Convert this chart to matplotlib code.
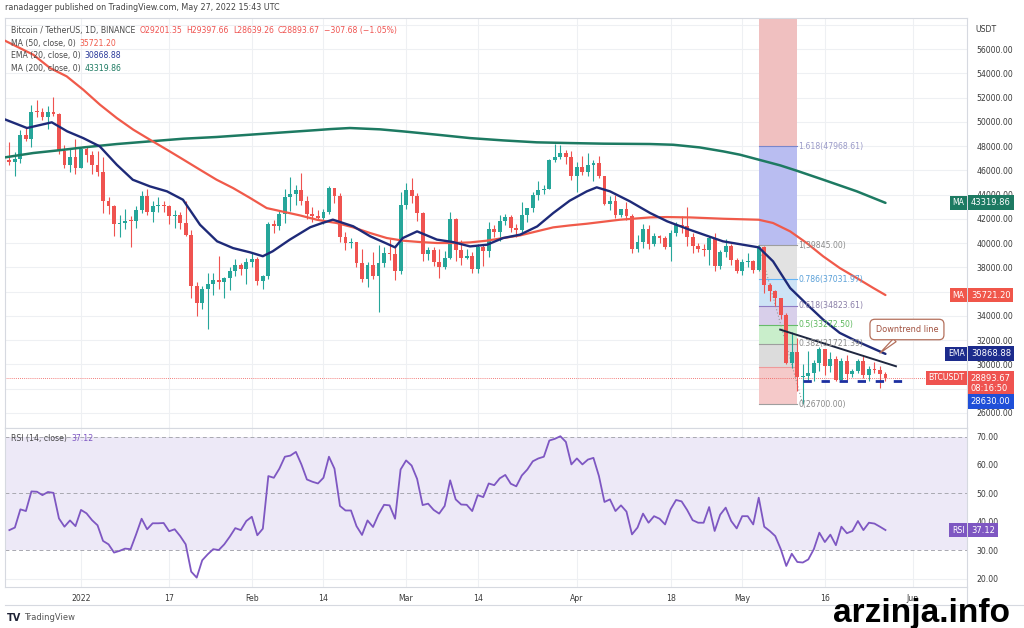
import numpy as np
import pandas as pd
import matplotlib
matplotlib.use('Agg')
import matplotlib.pyplot as plt
import matplotlib.transforms as mtransforms
from matplotlib.patches import Rectangle
from matplotlib.lines import Line2D

plt.rcParams['font.family'] = ['DejaVu Sans']

############################################
### data (BTC/USDT 1D, Dec 19 2021 .. May 27 2022)
############################################
start_date = '2021-12-19'
first_open = 46834
close = [46682, 46914, 48890, 48588, 50838, 50821, 50429, 50809, 50640, 47588, 46464, 47120, 46216,
         47722, 47286, 46446, 45832, 43451, 43082, 41566, 41679, 41864, 41822, 42729, 43902, 42560, 43059,
         43084, 43071, 42201, 42352, 41660, 40680, 36445, 35071, 36244, 36660, 36958, 36809, 37160, 37716,
         38166, 37881, 38466,
         38690, 36896, 37311, 41574, 41382, 42380, 43839, 44043, 44372, 43495, 42373, 42217, 42053, 42535,
         44544, 43873, 40515, 39974, 40079, 38386, 37008, 38230, 37250, 38327, 39219, 39116, 37699, 43160,
         44421, 43892, 42454, 39137, 39400, 38419, 38062, 38737, 41982, 39437, 38794, 38904, 37849, 39666,
         39338, 41143, 40951, 41801, 42191, 41247, 41077, 42358, 42892, 43960, 44348, 44500, 46820, 47128,
         47465, 47062, 45538,
         46281, 45868, 46453, 46622, 45555, 43206, 43503, 42287, 42782, 42207, 39521, 40127, 41166, 39935,
         40553, 40424, 39716, 40826, 41503, 41375, 40527, 39741, 39478, 39469, 40458, 38120, 39241, 39773,
         38609, 37714,
         38469, 38529, 37750, 39695, 36552, 36013, 35472, 34039, 30080, 31017, 28936, 29047, 29283, 30101,
         31305, 29862, 30425, 28716, 30319, 29201, 29445, 30294, 29110, 29655, 29542, 29201, 28893.67]
high = [48300, 47537, 49328, 49576, 51375, 51810, 51156, 51280, 52088, 50704, 48119, 47879, 48548,
        47954, 47990, 47570, 47557, 47070, 43816, 43145, 42300, 42786, 42248, 43100, 44322, 44500, 43448,
        43800, 43475, 43176, 42691, 42559, 43505, 41100, 36835, 36499, 37550, 37545, 38919, 37234, 38000,
        38720, 38359, 38744,
        39265, 38855, 37387, 41772, 41913, 42656, 44500, 45492, 44799, 45821, 43920, 43000, 42760, 42842,
        44751, 44549, 44164, 40959, 40444, 40125, 39494, 38429, 39249, 39843, 39683, 40300, 39855, 44225,
        44949, 45400, 44101, 42527, 39650, 39695, 39547, 39363, 42594, 42039, 40236, 39486, 39310, 39947,
        39887, 41718, 41478, 42326, 42400, 42301, 41544, 43361, 42893, 44220, 45094, 44820, 46920, 48189,
        48096, 47700, 47600,
        46720, 47213, 47444, 46890, 47200, 45555, 43900, 43970, 42800, 43410, 42414, 40699, 41561, 41500,
        40870, 40709, 40595, 41100, 41760, 42199, 42976, 40797, 39980, 39940, 40616, 40797, 39474, 40372,
        39925, 38795,
        38675, 39167, 38647, 39845, 39790, 36675, 36146, 35514, 34243, 32659, 32162, 30032, 31083, 30343,
        31460, 31308, 31025, 30666, 30545, 30777, 29588, 30487, 30670, 29834, 30223, 29876, 29397.66]
low = [46406, 45558, 46630, 48421, 47920, 50384, 50171, 49412, 50450, 47313, 46201, 45900, 45678,
       46208, 46654, 45696, 45500, 42500, 42430, 40610, 40501, 41200, 39650, 41268, 42450, 42311, 41725,
       42555, 42581, 41540, 41250, 41138, 40553, 35440, 34008, 34601, 32917, 35701, 36234, 35507, 36155,
       37268, 37351, 36633,
       38000, 36586, 36250, 37026, 40843, 41116, 41645, 42666, 43117, 43174, 42000, 41748, 41870, 41550,
       42427, 43307, 40073, 39450, 39639, 38000, 36800, 36350, 37036, 34322, 38014, 38573, 37000, 37450,
       42809, 43334, 41832, 38550, 38586, 38088, 37155, 37867, 38656, 38540, 38223, 38660, 37578, 37555,
       38098, 38828, 40500, 40135, 41499, 40911, 40467, 40891, 41751, 42566, 43578, 44072, 44422, 46663,
       46950, 46565, 45200,
       44200, 45620, 45530, 45118, 45353, 43121, 42727, 42107, 42125, 41868, 39200, 39254, 39588, 39551,
       39766, 39991, 39546, 38536, 40571, 40820, 39751, 39177, 39285, 38929, 38200, 37702, 37881, 38881,
       38175, 37578,
       37386, 38052, 37500, 37670, 35856, 35258, 34785, 33713, 30033, 29730, 27785, 26700, 28751, 28630,
       29480, 29091, 29404, 28654, 28693, 28730, 28947, 29255, 28866, 28631, 29294, 28020, 28639.26]

# indicator lines (x = days from 2022-01-01)
ma200_day = [-13.8, -8.65, -4.1, 0.4, 6.5, 12.5, 18.6, 24.6, 30.7, 36.7, 42.8, 45.2, 48.8, 54.3, 58.5,
             64.6, 70.6, 76.6, 82.7, 88.7, 94.8, 103.3, 107.5, 112.3, 116.6, 119.6, 123.0, 126.9, 129.9,
             134.7, 140.8, 146]
ma200_val = [47070, 47430, 47650, 47890, 48170, 48390, 48610, 48750, 48940, 49130, 49320, 49400, 49490,
             49380, 49210, 48940, 48660, 48470, 48310, 48250, 48200, 48170, 48110, 47890, 47560, 47290,
             46880, 46410, 45970, 45230, 44270, 43319.86]
ma50_day = [-13.8, -8.65, -5.6, -2.6, 0.4, 3.45, 6.5, 9.5, 12.5, 15.6, 18.6, 21.6, 24.6, 27.6, 30.7,
            33.7, 39.7, 42.8, 45.2, 46.4, 49.4, 52.5, 55.5, 58.5, 61.5, 64.6, 67.6, 70.6, 73.6, 76.6, 79.7,
            82.7, 85.7, 88.7, 91.8, 97.8, 103.3, 106.3, 110.5, 116.6, 123.0, 125.6, 128.7, 131.7, 134.7,
            137.7, 140.8, 143.8, 146]
ma50_val = [56690, 55530, 54430, 53750, 52650, 51410, 50310, 49350, 48530, 47700, 46880, 46050, 45230,
            44540, 43720, 42890, 42290, 41930, 41740, 41660, 41300, 40830, 40420, 40200, 40090, 40010,
            40010, 40060, 40200, 40420, 40640, 40970, 41300, 41460, 41600, 41930, 42120, 42150, 42120,
            42010, 41930, 41660, 40970, 40010, 38910, 37950, 37120, 36300, 35721.20]
ema20_day = [-13.8, -9.8, -5.3, -2.5, 0.4, 3.4, 6.5, 9.4, 12.5, 15.6, 18.5, 21.6, 24.7, 27.6, 30.7, 33.0,
             34.8, 37.9, 41.6, 43.4, 45.7, 49.4, 52.5, 55.5, 57.0, 58.4, 61.0, 64.6, 67.5, 70.6, 73.7, 76.6,
             79.7, 82.8, 85.7, 88.7, 91.8, 93.6, 96.0, 99.6, 101.5, 103.3, 106.4, 110.5, 116.5, 123.0,
             125.6, 128.7, 131.8, 134.7, 137.7, 140.8, 146]
ema20_val = [50200, 49490, 49960, 49215, 48660, 47980, 46460, 45225, 44680, 44270, 43580, 41515, 40150,
             39590, 39240, 38920, 39330, 40290, 41310, 41600, 41935, 41390, 40560, 39960, 39650, 40420,
             40970, 40290, 40090, 39730, 39870, 40420, 40700, 41380, 42480, 43500, 44270, 44600, 44270,
             43450, 42950, 42480, 41795, 41100, 40150, 39650, 38500, 36300, 34930, 33690, 32600, 31910,
             30868.88]

rsi = [37.1, 38.0, 44.4, 43.8, 50.7, 50.6, 49.4, 50.5, 50.2, 41.2, 38.3, 40.5, 38.5,
       44.2, 43.0, 40.6, 38.8, 33.3, 32.1, 29.2, 29.8, 30.6, 30.4, 35.6, 41.1, 37.4, 39.5, 39.5, 39.6,
       36.7, 37.4, 35.0, 32.1, 22.5, 20.4, 26.5, 28.6, 30.4, 30.1, 32.1, 34.8, 37.8, 37.1, 40.3,
       41.8, 35.3, 37.6, 56.1, 55.5, 58.7, 62.9, 63.3, 64.6, 60.2, 54.9, 54.1, 53.5, 55.5, 62.9,
       58.7, 45.6, 44.0, 44.0, 38.5, 35.4, 40.5, 38.2, 42.6, 46.0, 45.8, 41.1, 58.4,
       61.6, 59.8, 55.1, 45.9, 46.4, 44.2, 42.9, 45.6, 54.6, 47.9, 46.1, 46.0, 43.8, 49.4, 48.7, 53.5,
       52.9, 55.3, 56.5, 53.4, 52.5, 56.3, 58.4, 61.3, 62.3, 62.9, 68.6, 69.2, 70.1, 68.1, 60.2,
       62.3, 60.2, 61.9, 62.5, 56.1, 47.0, 47.9, 43.8, 45.8, 43.6, 35.6, 38.0, 42.9, 39.7,
       42.0, 41.1, 39.1, 44.4, 47.7, 47.2, 44.2, 40.6, 39.7, 39.7, 45.2, 36.8, 42.5, 45.0, 40.3, 37.7,
       42.0, 42.0, 39.1, 48.5, 38.3, 36.8, 35.0, 30.4, 24.5, 28.8, 25.9, 25.7, 26.8, 30.4, 36.2, 32.9,
       35.5, 31.8, 38.3, 36.0, 36.8, 40.3, 37.1, 39.7, 39.4, 38.3, 37.12]

# fib retracement (drawn May 4 -> May 11)
fib_days = [123, 129.9]
fib_ratio = ['0', '0.236', '0.382', '0.5', '0.618', '0.786', '1', '1.618']
fib_price = [26700.00, 29802.22, 31721.39, 33272.50, 34823.61, 37031.97, 39845.00, 47968.61]
fib_fill = ['#f5c9c9', '#dcdcdc', '#c9eecb', '#d8cfea', '#cde3f6', '#e2e2e2', '#b9bdf1', '#f0c0c0']
fib_line = ['#9e9e9e', '#ef9a9a', '#9e9e9e', '#66bb6a', '#8e7cc3', '#64b5f6', '#9e9e9e', '#7986cb']
fib_text = ['#8a8a8a', None, '#8a8a8a', '#5cb85c', '#8a7fa8', '#5aa0d8', '#8a8a8a', '#9a9ac8']

downtrend_day = [126.9, 147.9]
downtrend_val = [32870, 29850]
support_day = [131, 150.6]
support_val = 28630.00
last_price = 28893.67
last_rsi = 37.12

tick_days = [0, 16, 31, 44, 59, 72, 90, 107, 120, 135, 151]
tick_names = ['2022', '17', 'Feb', '14', 'Mar', '14', 'Apr', '18', 'May', '16', 'Jun']
price_ticks = list(range(26000, 56001, 2000))
hidden_ticks = [28000, 36000]   # covered by tags in the original

############################################
dates = pd.date_range(start_date, periods=len(close))
day = np.array((dates - pd.Timestamp('2022-01-01')).days, dtype=float)
c = np.array(close, dtype=float)
o = np.concatenate([[first_open], c[:-1]])
h = np.array(high, dtype=float)
l = np.array(low, dtype=float)

UP, DN = '#26a69a', '#ef5350'
C_MA50, C_EMA, C_MA200, C_RSI = '#f05a4a', '#1e2a78', '#1d7a62', '#7e57c2'
GRID = '#eef0f3'
TXT = '#3a3a3a'
FS = 5.6

fig = plt.figure(figsize=(10.24, 6.28), dpi=100)
ax = fig.add_axes([5/1024, 1-428/628, 962/1024, 410/628])
ar = fig.add_axes([5/1024, 1-587/628, 962/1024, 159/628], sharex=ax)

xl = ((5-81)/5.51, (967-81)/5.51)
ax.set_xlim(*xl)
ax.set_ylim(24760, 58560)
ar.set_ylim(17.1, 73.0)

for a in (ax, ar):
    for s in a.spines.values():
        s.set_color('#d6d9e0')
        s.set_linewidth(0.8)
    a.yaxis.tick_right()
    a.tick_params(length=0, labelsize=FS, colors=TXT, pad=7)
    for d in tick_days:
        a.axvline(d, color=GRID, lw=0.8, zorder=0)

ax.set_yticks(price_ticks)
ax.set_yticklabels(['' if v in hidden_ticks else '%.2f' % v for v in price_ticks])
for v in range(26000, 58001, 2000):
    ax.axhline(v, color=GRID, lw=0.8, zorder=0)
ax.tick_params(axis='x', labelbottom=False)

ar.set_yticks([20, 30, 40, 50, 60, 70])
ar.set_yticklabels(['%.2f' % v for v in [20, 30, 40, 50, 60, 70]])
for v in [20, 40, 60]:
    ar.axhline(v, color=GRID, lw=0.8, zorder=0)
ar.set_xticks(tick_days)
ar.set_xticklabels(tick_names)
ar.tick_params(axis='x', pad=5)

### fib zones
ytop = ax.get_ylim()[1]
bounds = fib_price + [ytop]
for i in range(len(fib_price)):
    ax.add_patch(Rectangle((fib_days[0], bounds[i]), fib_days[1]-fib_days[0], bounds[i+1]-bounds[i],
                           facecolor=fib_fill[i], edgecolor='none', zorder=1))
    ax.plot(fib_days, [fib_price[i]]*2, color=fib_line[i], lw=0.8, zorder=1.5)
    if fib_text[i] is not None:
        ax.text(fib_days[1]+0.3, fib_price[i], '%s(%.2f)' % (fib_ratio[i], fib_price[i]),
                color=fib_text[i], fontsize=FS, va='center', ha='left', zorder=6)
ax.plot([fib_days[0], 131], [fib_price[6], fib_price[0]], color='#9a9a9a', lw=0.8, ls=(0, (1, 2)), zorder=1.6)

### candles
col = np.where(c >= o, UP, DN)
ax.vlines(day, l, h, colors=col, lw=0.8, zorder=3)
body = np.maximum(np.abs(c-o), 70)
ax.bar(day, body, bottom=np.minimum(o, c), width=0.7, color=col, zorder=3.1)

### indicators
ax.plot(ma200_day, ma200_val, color=C_MA200, lw=1.8, zorder=4, solid_capstyle='round', solid_joinstyle='round')
ax.plot(ma50_day, ma50_val, color=C_MA50, lw=1.6, zorder=4, solid_capstyle='round', solid_joinstyle='round')
ax.plot(ema20_day, ema20_val, color=C_EMA, lw=1.7, zorder=4.2, solid_capstyle='round', solid_joinstyle='round')

ax.axhline(last_price, color=DN, lw=0.6, ls=(0, (1, 1.5)), zorder=2)
ax.plot(downtrend_day, downtrend_val, color='#1f2740', lw=1.4, zorder=5)
ax.plot(support_day, [support_val]*2, color='#1c2fa0', lw=2.0, ls=(0, (3, 3.5)), zorder=5)

ax.annotate('Downtrend line', xy=(145.0, 30940), xytext=(149.9, 32880),
            fontsize=FS+0.3, color='#a0503e', ha='center', va='center', zorder=7,
            bbox=dict(boxstyle='round,pad=0.7,rounding_size=0.6', fc='white', ec='#b4705c', lw=0.9),
            arrowprops=dict(arrowstyle='wedge,tail_width=0.5', fc='white', ec='#b4705c', lw=0.9,
                            shrinkA=0, shrinkB=0))

### rsi
ar.fill_between([xl[0], xl[1]], 30, 70, color='#ede9f7', zorder=0.5, lw=0)
for v in (30, 50, 70):
    ar.axhline(v, color='#a8a8b0', lw=0.7, ls=(0, (4, 3)), zorder=1)
ar.plot(day, rsi, color=C_RSI, lw=1.3, zorder=3)

### right side tags
def tag(a, yv, label, value, color, ylab=None):
    tr = mtransforms.blended_transform_factory(a.transAxes, a.transData)
    yl = yv if ylab is None else ylab
    if label:
        a.text(0.9975, yv, label, transform=tr, ha='right', va='center', color='white', fontsize=FS,
               bbox=dict(boxstyle='square,pad=0.35', fc=color, ec='none'), clip_on=False, zorder=10)
    a.text(1.004, yl, value, transform=tr, ha='left', va='center', color='white', fontsize=FS+0.4,
           bbox=dict(boxstyle='square,pad=0.35', fc=color, ec='none'), clip_on=False, zorder=10,
           linespacing=1.1)

tag(ax, 43319.86, 'MA', '43319.86', C_MA200)
tag(ax, 35721.20, 'MA', '35721.20', '#f0564a')
tag(ax, 30868.88, 'EMA', '30868.88', '#1c2b8c')
tag(ax, last_price, 'BTCUSDT', '28893.67\n08:16:50', '#ef5350', ylab=28430)
tag(ax, 26920, None, '28630.00', '#1f4fd8')
tag(ar, last_rsi, 'RSI', '37.12', C_RSI)

fig.text(975/1024, 1-30/628, 'USDT', fontsize=FS, color=TXT, va='center')

### header / legends
fig.text(5/1024, 1-8/628, 'ranadagger published on TradingView.com, May 27, 2022 15:43 UTC',
         fontsize=FS+0.2, color='#444444', va='center')

def chain(y, parts):
    t = fig.text(11/1024, 1-y/628, parts[0][0], color=parts[0][1], fontsize=FS, va='baseline')
    for s, cc in parts[1:]:
        t = fig.add_artist(matplotlib.text.Annotation(s, xy=(1, 0), xycoords=t, xytext=(3, 0),
                                                      textcoords='offset points', color=cc,
                                                      fontsize=FS, va='bottom'))
    return t

chain(33, [('Bitcoin / TetherUS, 1D, BINANCE', '#4a4a4a'), ('O29201.35', DN), ('H29397.66', DN),
           ('L28639.26', DN), ('C28893.67', DN), ('\u2212307.68 (\u22121.05%)', DN)])
chain(46, [('MA (50, close, 0)', '#4a4a4a'), ('35721.20', C_MA50)])
chain(58, [('EMA (20, close, 0)', '#4a4a4a'), ('30868.88', '#2a3a9a')])
chain(71, [('MA (200, close, 0)', '#4a4a4a'), ('43319.86', C_MA200)])
chain(441, [('RSI (14, close)', '#4a4a4a'), ('37.12', C_RSI)])

### footer
fig.add_artist(Line2D([5/1024, 1.0], [1-605/628]*2, color='#d6d9e0', lw=0.8, transform=fig.transFigure))
fig.add_artist(Line2D([967/1024]*2, [1-605/628, 1-587/628], color='#d6d9e0', lw=0.8, transform=fig.transFigure))
fig.text(7/1024, 1-618/628, 'TV', fontsize=7, fontweight='bold', color='#1e2235', va='center')
fig.text(24/1024, 1-618/628, 'TradingView', fontsize=FS+0.4, color='#555555', va='center')
fig.text(833/1024, 1-622/628, 'arzinja.info', fontsize=24, fontweight='bold', color='black',
         family='Liberation Sans', va='baseline', zorder=20)

fig.savefig('out.png', dpi=100)
plt.close()
